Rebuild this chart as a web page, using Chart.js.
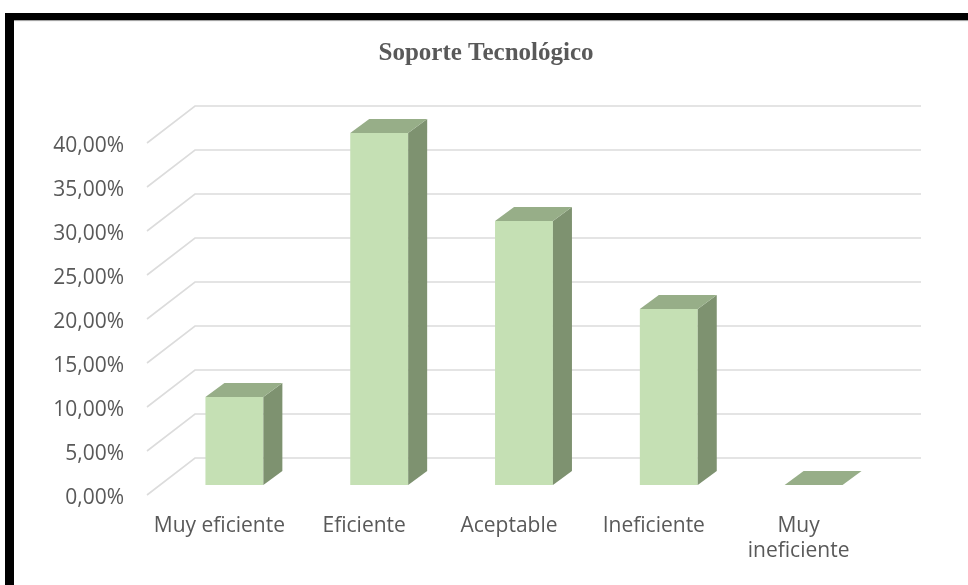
<!DOCTYPE html>
<html>
<head>
<meta charset="utf-8">
<script src="https://cdn.jsdelivr.net/npm/chart.js@4/dist/chart.umd.min.js"></script>
<style>
  html, body { margin: 0; padding: 0; background: #fff; }
  #chartCanvas { position: absolute; left: 0; top: 0; }
  #frame {
    position: absolute; left: 5px; top: 13px; width: 963px; height: 572px;
    border-top: 7px solid #000; border-left: 9px solid #000;
    box-shadow: inset 0 2px 1px -1px #999;
    box-sizing: border-box; pointer-events: none;
  }
</style>
</head>
<body>
<canvas id="chartCanvas" width="968" height="585"></canvas>
<div id="frame"></div>
<script>
// chart data
const chartTitle = "Soporte Tecnológico";
const categories = ["Muy eficiente", "Eficiente", "Aceptable", "Ineficiente", ["Muy", "ineficiente"]];
const percentValues = [10, 40, 30, 20, 0];
const yTicks = [0, 5, 10, 15, 20, 25, 30, 35, 40];

const frontColor = "#C5E0B4";
const topColor = "#97AE88";
const sideColor = "#7E9270";
const gridColor = "#DCDCDC";

// depth of the bars and of the back wall
const barDepth = { dx: 19, dy: -14 };

// title centred on the whole picture, not on the plot area
const pageTitle = {
  id: "pageTitle",
  afterDraw(chart) {
    const { ctx, width } = chart;
    ctx.save();
    ctx.fillStyle = "#595959";
    ctx.font = "bold 25px 'Liberation Serif'";
    ctx.textAlign = "center";
    ctx.textBaseline = "alphabetic";
    ctx.fillText(chartTitle, width / 2 + 2, 60);
    ctx.restore();
  },
};

// perspective gridlines: front edge, then back wall
const wallGrid = {
  id: "wallGrid",
  beforeDatasetsDraw(chart) {
    const { ctx, chartArea, scales } = chart;
    ctx.save();
    ctx.strokeStyle = gridColor;
    ctx.lineWidth = 1.6;
    yTicks.forEach((v) => {
      const yb = scales.y.getPixelForValue(v);
      ctx.beginPath();
      ctx.moveTo(chartArea.left - 15, yb + 10);
      ctx.lineTo(chartArea.left + 33, yb - 27);
      ctx.lineTo(chartArea.right + 35, yb - 27);
      ctx.stroke();
    });
    ctx.restore();
  },
};

// top and side faces of each column
const columns3d = {
  id: "columns3d",
  afterDatasetsDraw(chart) {
    const { ctx } = chart;
    const { dx, dy } = barDepth;
    chart.getDatasetMeta(0).data.forEach((bar) => {
      const x0 = bar.x - bar.width / 2;
      const x1 = bar.x + bar.width / 2;
      const top = bar.y;
      const base = bar.base;

      ctx.save();
      // side
      ctx.fillStyle = sideColor;
      ctx.beginPath();
      ctx.moveTo(x1, top);
      ctx.lineTo(x1 + dx, top + dy);
      ctx.lineTo(x1 + dx, base + dy);
      ctx.lineTo(x1, base);
      ctx.closePath();
      ctx.fill();
      // top
      ctx.fillStyle = topColor;
      ctx.beginPath();
      ctx.moveTo(x0, top);
      ctx.lineTo(x0 + dx, top + dy);
      ctx.lineTo(x1 + dx, top + dy);
      ctx.lineTo(x1, top);
      ctx.closePath();
      ctx.fill();
      ctx.restore();
    });
  },
};

const ctx = document.getElementById("chartCanvas").getContext("2d");

new Chart(ctx, {
  type: "bar",
  data: {
    labels: categories,
    datasets: [
      {
        label: chartTitle,
        data: percentValues,
        backgroundColor: frontColor,
        borderWidth: 0,
        barPercentage: 0.4,
        categoryPercentage: 1,
      },
    ],
  },
  options: {
    responsive: false,
    animation: false,
    layout: {
      padding: { left: 12, right: 82, top: 133, bottom: 0 },
    },
    scales: {
      x: {
        grid: { display: false, drawTicks: false },
        border: { display: false },
        ticks: {
          color: "#595959",
          font: { family: "'Open Sans'", size: 21 },
          padding: 28,
          labelOffset: -15,
          maxRotation: 0,
          autoSkip: false,
        },
        afterFit: (scale) => {
          scale.height = 100;
        },
      },
      y: {
        min: 0,
        max: 40,
        grid: { display: false, drawTicks: false },
        border: { display: false },
        ticks: {
          stepSize: 5,
          color: "#595959",
          font: { family: "'Open Sans'", size: 21 },
          padding: 38,
          labelOffset: 13,
          callback: (v) => v.toFixed(2).replace(".", ",") + "%",
        },
        afterFit: (scale) => {
          scale.width = 150;
        },
      },
    },
    plugins: {
      legend: { display: false },
      tooltip: { enabled: false },
      title: { display: false },
    },
  },
  plugins: [wallGrid, columns3d, pageTitle],
});
</script>
</body>
</html>
